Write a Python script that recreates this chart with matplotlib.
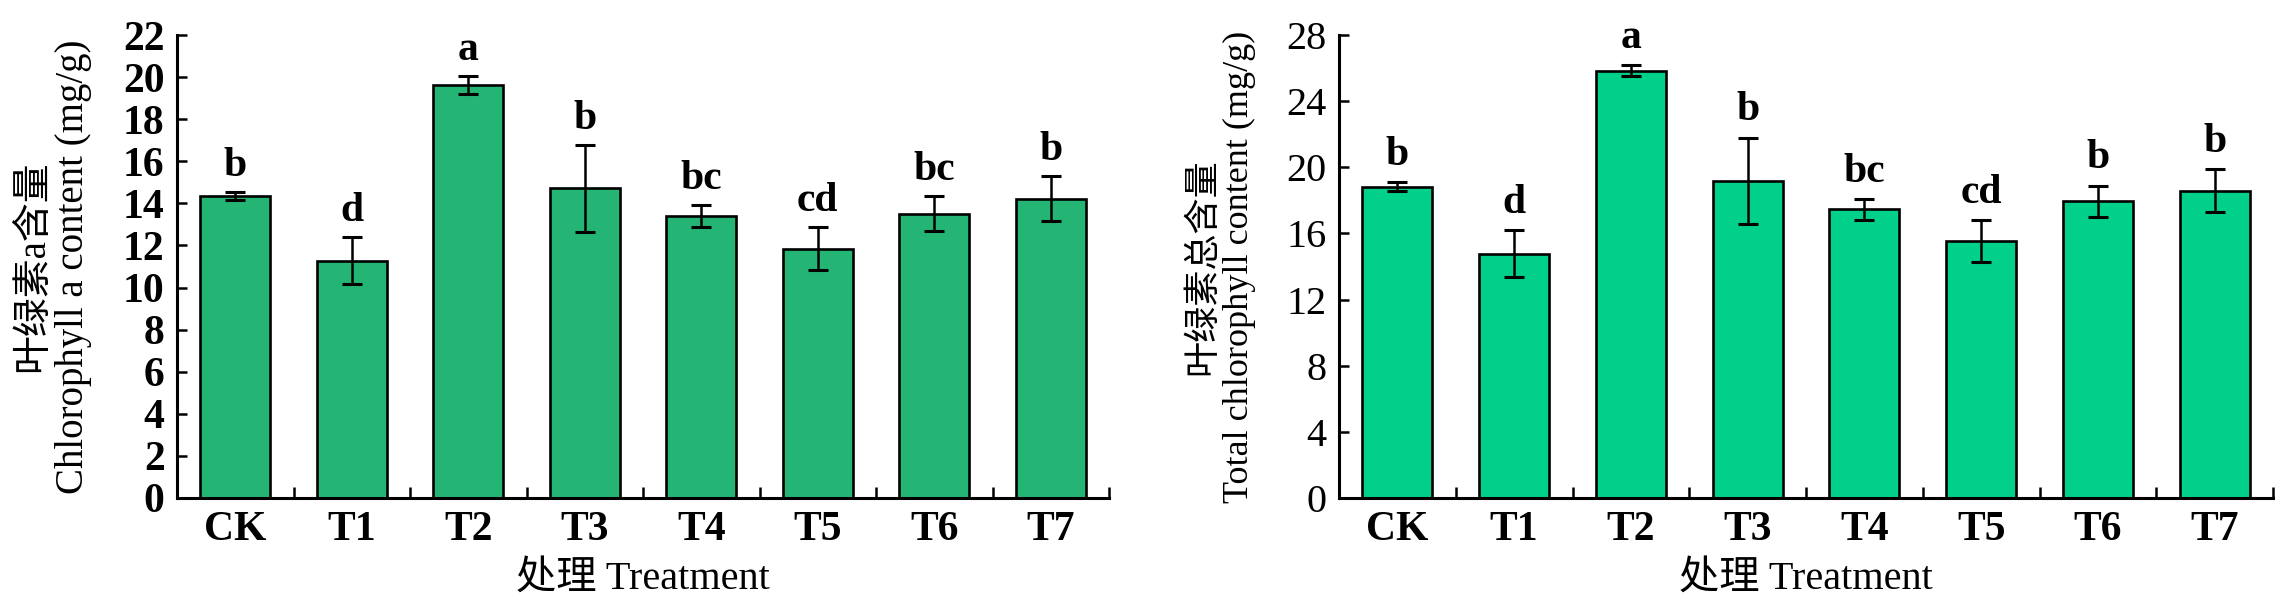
import matplotlib
matplotlib.use("Agg")
import matplotlib.pyplot as plt
import numpy as np
from matplotlib.ticker import FixedLocator, MultipleLocator

# ---------------- data ----------------
treatments = ["CK", "T1", "T2", "T3", "T4", "T5", "T6", "T7"]

chl_a = [14.35, 11.28, 19.62, 14.71, 13.40, 11.85, 13.50, 14.22]
chl_a_err = [0.20, 1.10, 0.42, 2.08, 0.51, 1.03, 0.83, 1.08]
chl_a_letters = ["b", "d", "a", "b", "bc", "cd", "bc", "b"]

chl_total = [18.83, 14.78, 25.83, 19.18, 17.46, 15.52, 17.95, 18.58]
chl_total_err = [0.28, 1.42, 0.33, 2.60, 0.63, 1.27, 0.93, 1.30]
chl_total_letters = ["b", "d", "a", "b", "bc", "cd", "b", "b"]

left_ylabel = "叶绿素a含量\nChlorophyll a content (mg/g)"
right_ylabel = "叶绿素总含量\nTotal chlorophyll content (mg/g)"
xlabel_text = "处理 Treatment"

FAM = ["Liberation Serif", "Noto Sans CJK SC", "DejaVu Sans"]
plt.rcParams["font.family"] = FAM

W, H = 2283, 608
fig = plt.figure(figsize=(W / 100, H / 100), dpi=100)

y_bot = 498
y_top = 35


def make_ax(x0, x1, ymax, ystep):
    ax = fig.add_axes([x0 / W, (H - y_bot) / H, (x1 - x0) / W, (y_bot - y_top) / H])
    ax.set_ylim(0, ymax)
    ax.set_xlim(-0.5, len(treatments) - 0.5)
    for s in ["top", "right"]:
        ax.spines[s].set_visible(False)
    for s in ["left", "bottom"]:
        ax.spines[s].set_linewidth(2.2)
    ax.yaxis.set_major_locator(MultipleLocator(ystep))
    ax.tick_params(axis="y", direction="in", length=7.5, width=1.8, pad=9)
    ax.set_xticks(range(len(treatments)))
    ax.set_xticklabels(treatments, fontsize=30, fontweight="bold")
    ax.tick_params(axis="x", which="major", length=0, pad=9)
    ax.xaxis.set_minor_locator(FixedLocator(np.arange(-0.5, len(treatments), 1.0)))
    ax.tick_params(axis="x", which="minor", direction="in", length=8, width=1.8)
    return ax


def draw(ax, vals, errs, letters, color, offset_units):
    x = np.arange(len(vals))
    ax.bar(x, vals, width=0.6, color=color, edgecolor="black", linewidth=1.9, zorder=2)
    ax.errorbar(x, vals, yerr=errs, fmt="none", ecolor="black", elinewidth=1.8,
                capsize=7, capthick=2.2, zorder=3)
    for xi, v, e, t in zip(x, vals, errs, letters):
        ax.text(xi, v + e + offset_units, t, ha="center", va="baseline",
                fontsize=30, fontweight="bold", family=FAM)


# left panel
axL = make_ax(177, 1109, 22, 2)
draw(axL, chl_a, chl_a_err, chl_a_letters, "#24B574", 0.76)
for lab in axL.get_yticklabels():
    lab.set_fontsize(30)
    lab.set_fontweight("bold")
axL.set_ylabel(left_ylabel, fontsize=28, linespacing=1.1, labelpad=22)
axL.set_xlabel(xlabel_text, fontsize=29, labelpad=9)

# right panel
axR = make_ax(1339, 2273, 28, 4)
draw(axR, chl_total, chl_total_err, chl_total_letters, "#00D08A", 1.05)
for lab in axR.get_yticklabels():
    lab.set_fontsize(29)
axR.set_ylabel(right_ylabel, fontsize=26, linespacing=1.1, labelpad=22)
axR.set_xlabel(xlabel_text, fontsize=29, labelpad=9)

fig.savefig("out.png", dpi=100)
